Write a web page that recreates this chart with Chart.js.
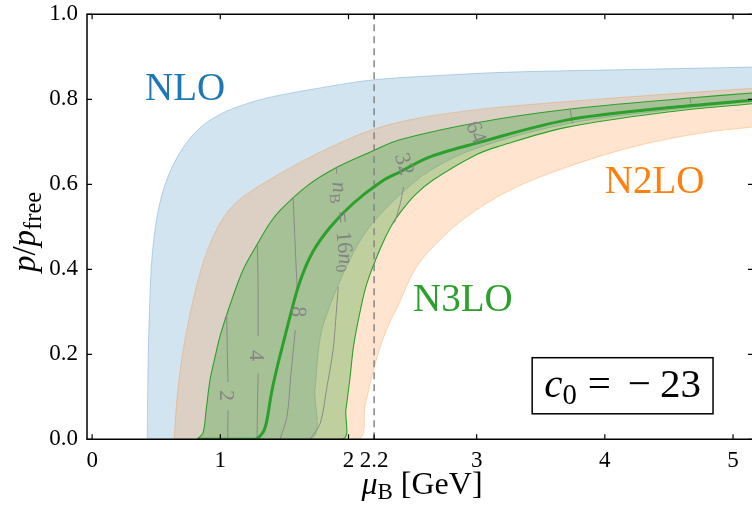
<!DOCTYPE html>
<html><head><meta charset="utf-8">
<script src="https://cdn.jsdelivr.net/npm/chart.js@4.4.0/dist/chart.umd.min.js"></script>
<style>html,body{margin:0;padding:0;background:#fff;overflow:hidden}canvas{display:block}</style>
</head><body>
<canvas id="c" width="752" height="506"></canvas>
<script>
// ---- tick labels ----
const xTicks = [0, 1, 2, 2.2, 3, 4, 5];
const yTicks = [0, 0.2, 0.4, 0.6, 0.8, 1.0];

// ---- band boundaries (muB [GeV], p/pfree) ----
const nloUpper = [[0.43,0],[0.433,0.1],[0.438,0.2],[0.447,0.3],[0.46,0.4],[0.485,0.48],[0.52,0.545],[0.57,0.6],[0.64,0.65],[0.73,0.695],[0.85,0.735],[1.0,0.765],[1.16,0.785],[1.39,0.805],[1.8,0.828],[2.2,0.846],[2.7,0.856],[3.26,0.864],[4.2,0.87],[5.16,0.876]];
const nloLower = [[0.43,0],[1.70,0],[1.74,0.12],[1.78,0.24],[1.85,0.31],[1.93,0.37],[2.04,0.44],[2.14,0.49],[2.25,0.53],[2.40,0.575],[2.64,0.633],[3.0,0.685],[3.7,0.742],[4.5,0.775],[5.16,0.795]];
const n2loUpper = [[0.64,0],[0.65,0.05],[0.67,0.12],[0.70,0.19],[0.74,0.26],[0.79,0.33],[0.85,0.40],[0.92,0.46],[1.0,0.51],[1.1,0.55],[1.22,0.58],[1.39,0.612],[1.6,0.648],[1.9,0.693],[2.2,0.73],[2.5,0.753],[2.8,0.768],[3.2,0.782],[4.2,0.806],[5.16,0.826]];
const n2loLower = [[0.64,0],[2.07,0],[2.13,0.08],[2.22,0.19],[2.30,0.26],[2.38,0.31],[2.52,0.40],[2.66,0.453],[2.92,0.523],[3.26,0.586],[3.70,0.64],[4.22,0.688],[4.74,0.72],[5.16,0.735]];
const n3loUpper = [[0.82,0],[0.865,0.015],[0.89,0.07],[0.92,0.14],[0.96,0.195],[1.0,0.245],[1.08,0.32],[1.18,0.40],[1.29,0.46],[1.39,0.51],[1.47,0.54],[1.68,0.597],[1.91,0.64],[2.2,0.68],[2.4,0.705],[3.0,0.745],[3.7,0.776],[4.66,0.803],[5.16,0.815]];
const n3loLower = [[0.82,0],[1.95,0],[1.98,0.07],[2.01,0.14],[2.04,0.22],[2.09,0.30],[2.145,0.368],[2.25,0.45],[2.33,0.50],[2.40,0.532],[2.52,0.575],[2.66,0.61],[3.0,0.67],[3.18,0.69],[3.7,0.734],[4.49,0.77],[5.16,0.79]];
const n3loCentral = [[0.82,0],[1.27,0],[1.33,0.015],[1.36,0.04],[1.40,0.11],[1.44,0.165],[1.49,0.225],[1.545,0.29],[1.62,0.37],[1.72,0.44],[1.86,0.50],[2.04,0.556],[2.25,0.605],[2.40,0.629],[2.64,0.665],[3.0,0.697],[3.7,0.751],[4.49,0.78],[5.16,0.798]];

// ---- n_B contours (null = gap for inline label) ----
const contour2 = [[1.05,0.293],[1.055,0.2],[1.06,0.135],[1.06,null],[1.06,0.068],[1.058,0]];
const contour4 = [[1.29,0.457],[1.295,0.35],[1.295,0.243],[1.295,null],[1.295,0.155],[1.29,0.08],[1.287,0]];
const contour8 = [[1.568,0.57],[1.585,0.45],[1.60,0.35],[1.60,null],[1.585,0.257],[1.55,0.15],[1.52,0.053],[1.466,0]];
const contour16 = [[1.905,0.64],[1.908,0.625],[1.91,null],[1.92,0.359],[1.90,0.28],[1.88,0.21],[1.83,0.12],[1.78,0.038],[1.70,0]];
const contour32 = [[2.43,0.594],[2.40,0.55],[2.36,0.51]];
const contour128 = [[3.73,0.777],[3.745,0.744]];
const contour256 = [[4.665,0.803],[4.672,0.79]];
const dashedX = [[2.2,0],[2.2,1]];

// contour labels: text, x, y, rotation (deg)
const contourLabels = [['2',1.055,0.103,90],['4',1.29,0.197,90],['8',1.615,0.30,92],['32',2.44,0.648,73],['64',3.00,0.723,68]];
const nbLabelPos = [1.955, 0.50, 85];

const SERIF = '"Liberation Serif", "Times New Roman", serif';
Chart.defaults.font.family = SERIF;

const P = a => a.map(([x, y]) => ({x, y}));
const base = {pointRadius: 0, pointHoverRadius: 0, tension: 0.35, spanGaps: false};
const blueF = 'rgba(31,119,180,0.2)', blueE = 'rgba(31,119,180,0.28)';
const orF = 'rgba(255,127,14,0.2)', orE = 'rgba(255,127,14,0.28)';
const grF = 'rgba(44,160,44,0.3)', gr = '#2ca02c', gray = '#8a8a8a';

const datasets = [
  {...base, data: P(nloUpper), borderColor: blueE, borderWidth: 1, backgroundColor: blueF, fill: 1, order: 20},
  {...base, data: P(nloLower), borderColor: blueE, borderWidth: 1, fill: false, order: 19},
  {...base, data: P(n2loUpper), borderColor: orE, borderWidth: 1, backgroundColor: orF, fill: 3, order: 18},
  {...base, data: P(n2loLower), borderColor: orE, borderWidth: 1, fill: false, order: 17},
  {...base, data: P(n3loUpper), borderColor: gr, borderWidth: 1.1, backgroundColor: grF, fill: 5, order: 16},
  {...base, data: P(n3loLower), borderColor: gr, borderWidth: 1.1, fill: false, order: 15},
];
[contour2, contour4, contour8, contour16, contour32, contour128, contour256].forEach(c =>
  datasets.push({...base, tension: 0.3, data: P(c), borderColor: gray, borderWidth: 1, fill: false, order: 5}));
datasets.push({...base, tension: 0, data: P(dashedX), borderColor: '#858585', borderWidth: 1.5, borderDash: [7, 5], fill: false, order: 3});
datasets.push({...base, data: P(n3loCentral), borderColor: gr, borderWidth: 3, fill: false, order: 1});

const fnt = (s, it) => (it ? 'italic ' : '') + s + 'px ' + SERIF;

function layoutRuns(ctx, runs, size, subScale) {
  let w = 0; const items = [];
  for (const r of runs) {
    if (r.gap !== undefined) { w += r.gap; continue; }
    const s = r.sub ? size * (subScale || 0.7) : size;
    const f = fnt(s, r.it);
    ctx.font = f;
    const m = ctx.measureText(r.t).width;
    items.push({t: r.t, f, x: w, dy: r.sub ? size * 0.17 : 0});
    w += m;
  }
  return {w, items};
}
function drawRuns(ctx, runs, size, x, y, align, rotDeg, vshift, subScale) {
  ctx.save();
  ctx.translate(x, y);
  if (rotDeg) ctx.rotate(rotDeg * Math.PI / 180);
  const L = layoutRuns(ctx, runs, size, subScale);
  const x0 = align === 'center' ? -L.w / 2 : align === 'right' ? -L.w : 0;
  ctx.textAlign = 'left'; ctx.textBaseline = 'alphabetic';
  for (const it of L.items) { ctx.font = it.f; ctx.fillText(it.t, x0 + it.x, it.dy + (vshift || 0)); }
  ctx.restore();
  return L.w;
}

const decor = {
  id: 'decor',
  afterDraw(chart) {
    const {ctx, chartArea: a, scales: {x, y}} = chart;
    const X = v => x.getPixelForValue(v), Y = v => y.getPixelForValue(v);
    ctx.save();
    // contour labels
    ctx.fillStyle = '#848484';
    contourLabels.forEach(([t, vx, vy, r]) => drawRuns(ctx, [{t}], 22, X(vx), Y(vy), 'center', r, 22 * 0.33));
    drawRuns(ctx, [{t: 'n', it: true}, {t: 'B', sub: true}, {gap: 8}, {t: '='}, {gap: 8}, {t: '16'}, {t: 'n', it: true}, {t: '0', sub: true}],
      22, X(nbLabelPos[0]), Y(nbLabelPos[1]), 'center', nbLabelPos[2], 22 * 0.3);
    // order labels
    ctx.fillStyle = '#1f77b4'; drawRuns(ctx, [{t: 'NLO'}], 39, X(0.413), Y(0.798), 'left');
    ctx.fillStyle = '#ff7f0e'; drawRuns(ctx, [{t: 'N2LO'}], 39, X(3.999), Y(0.58), 'left');
    ctx.fillStyle = '#2ca02c'; drawRuns(ctx, [{t: 'N3LO'}], 39, X(2.504), Y(0.301), 'left');
    // c0 box
    const bx0 = X(3.433), bx1 = X(4.844), by0 = Y(0.192), by1 = Y(0.060);
    ctx.fillStyle = '#fff'; ctx.fillRect(bx0, by0, bx1 - bx0, by1 - by0);
    ctx.strokeStyle = '#000'; ctx.lineWidth = 1.5; ctx.strokeRect(bx0, by0, bx1 - bx0, by1 - by0);
    ctx.fillStyle = '#000';
    drawRuns(ctx, [{t: 'c', it: true}, {t: '0', sub: true}, {gap: 11}, {t: '='}, {gap: 17}, {t: '\u2212'}, {gap: 9}, {t: '23'}],
      41, (bx0 + bx1) / 2, Y(0.10), 'center');
    // axis titles
    drawRuns(ctx, [{t: 'p', it: true}, {t: '/'}, {t: 'p', it: true}, {t: 'free', sub: true}], 33, 35, 232, 'center', -90, 0, 0.74);
    drawRuns(ctx, [{t: '\u03bc', it: true}, {t: 'B', sub: true}, {t: ' [GeV]'}], 32, 422, 494, 'center', 0, 0, 0.72);
    // spines
    ctx.strokeStyle = '#000'; ctx.lineWidth = 1.5;
    ctx.beginPath();
    ctx.moveTo(a.right + 2, a.top); ctx.lineTo(a.left, a.top); ctx.lineTo(a.left, a.bottom); ctx.lineTo(a.right + 2, a.bottom);
    ctx.stroke();
    // inward ticks
    ctx.lineWidth = 1.2;
    ctx.beginPath();
    xTicks.forEach(v => { const p = X(v); ctx.moveTo(p, a.bottom); ctx.lineTo(p, a.bottom - 5); ctx.moveTo(p, a.top); ctx.lineTo(p, a.top + 5); });
    yTicks.forEach(v => { const p = Y(v); ctx.moveTo(a.left, p); ctx.lineTo(a.left + 5, p); ctx.moveTo(a.right + 1, p); ctx.lineTo(a.right - 4, p); });
    ctx.stroke();
    ctx.restore();
  }
};

new Chart(document.getElementById('c'), {
  type: 'line',
  data: {datasets},
  options: {
    responsive: false, animation: false, devicePixelRatio: 1,
    layout: {padding: {top: 14.3, right: 0, left: 0, bottom: 0}},
    plugins: {legend: {display: false}, tooltip: {enabled: false}},
    events: [],
    scales: {
      x: {
        type: 'linear', min: -0.04, max: 5.148,
        afterBuildTicks: s => { s.ticks = xTicks.map(v => ({value: v})); },
        afterFit: s => { s.height = 66.7; s.paddingLeft = 0; s.paddingRight = 0; },
        grid: {display: false, drawTicks: false}, border: {display: false},
        ticks: {autoSkip: false, maxRotation: 0, minRotation: 0, padding: 8, color: '#000',
          font: {family: SERIF, size: 23}, callback: v => String(v)}
      },
      y: {
        type: 'linear', min: 0, max: 1,
        afterBuildTicks: s => { s.ticks = yTicks.map(v => ({value: v})); },
        afterFit: s => { s.width = 87; s.paddingTop = 0; s.paddingBottom = 0; },
        grid: {display: false, drawTicks: false}, border: {display: false},
        ticks: {padding: 9, color: '#000', font: {family: SERIF, size: 23}, callback: v => v.toFixed(1)}
      }
    }
  },
  plugins: [decor]
});
</script>
</body></html>
